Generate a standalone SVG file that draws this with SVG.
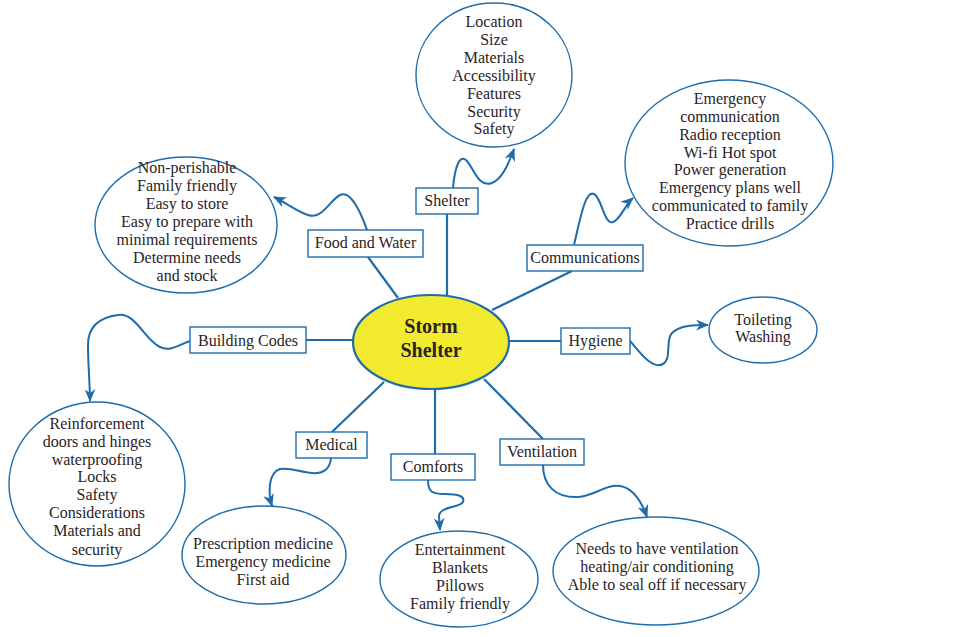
<svg xmlns="http://www.w3.org/2000/svg" width="963" height="637" viewBox="0 0 963 637">
<defs>
<marker id="arr" viewBox="0 0 12 10" markerWidth="13" markerHeight="11" refX="11" refY="5" orient="auto" markerUnits="userSpaceOnUse">
<path d="M0,0 L12,5 L0,10 L3.5,5 Z" fill="#1f6cab"/>
</marker>
<style>
.t{font-family:"Liberation Serif","Times New Roman",serif;font-size:16px;fill:#2a2326;text-anchor:middle}
.c{font-family:"Liberation Serif","Times New Roman",serif;font-size:20px;font-weight:bold;fill:#2a2326;text-anchor:middle}
.bx{fill:#fff;stroke:#1f6cab;stroke-width:1.4}
.el{fill:#fff;stroke:#1f6cab;stroke-width:1.4}
.ln{fill:none;stroke:#1f6cab;stroke-width:2.2}
.cv{fill:none;stroke:#1f6cab;stroke-width:2;marker-end:url(#arr)}
</style>
</defs>
<rect width="963" height="637" fill="#fff"/>
<g id="connectors">
<line class="ln" x1="447" y1="214" x2="447" y2="296"/>
<line class="ln" x1="368" y1="257" x2="398" y2="298"/>
<line class="ln" x1="572" y1="271" x2="492" y2="310"/>
<line class="ln" x1="306" y1="340" x2="354" y2="340"/>
<line class="ln" x1="508" y1="341" x2="561" y2="341"/>
<line class="ln" x1="332" y1="432" x2="384" y2="382"/>
<line class="ln" x1="435" y1="389" x2="435" y2="454"/>
<line class="ln" x1="484" y1="379" x2="543" y2="439"/>
<path class="cv" d="M453,188 C455,165 460,155 466,160 C474,168 478,188 492,183 C502,179 508,165 514,149"/>
<path class="cv" d="M367,230 C360,210 350,190 340,195 C330,200 322,220 308,215 C298,212 288,204 274,197"/>
<path class="cv" d="M574,245 C580,220 585,190 594,194 C602,198 604,225 613,222 C620,220 625,205 633,198"/>
<path class="cv" d="M190,341 C178,345 170,352 160,347 C145,340 135,312 118,315 C95,318 88,330 88,345 C88,365 90,385 90,401"/>
<path class="cv" d="M331,458 C330,470 322,474 312,473 C300,472 290,467 280,469 C268,473 268,493 272,506"/>
<path class="cv" d="M428,480 C428,492 432,494 445,494 C458,494 465,496 463,502 C460,508 440,506 439,516 L440,530"/>
<path class="cv" d="M543,465 C543,485 555,498 578,497 C595,496 605,484 620,486 C632,488 641,500 647,517"/>
<path class="cv" d="M630,341 C640,352 652,370 663,364 C672,359 665,340 672,333 C680,325 695,325 708,325"/>
</g>
<g id="center">
<ellipse cx="431" cy="342" rx="78" ry="47" fill="#f1ea2f" stroke="#1f6cab" stroke-width="2.2"/>
<text class="c" x="431" y="333">Storm</text>
<text class="c" x="431" y="357">Shelter</text>
</g>
<g id="shelter">
<rect class="bx" x="416" y="188" width="62" height="26"/>
<text class="t" x="447" y="206">Shelter</text>
</g>
<g id="shelter-details">
<ellipse class="el" cx="494" cy="75" rx="78" ry="72"/>
<text class="t" x="494" y="27">Location</text>
<text class="t" x="494" y="45">Size</text>
<text class="t" x="494" y="63">Materials</text>
<text class="t" x="494" y="81">Accessibility</text>
<text class="t" x="494" y="99">Features</text>
<text class="t" x="494" y="117">Security</text>
<text class="t" x="494" y="134">Safety</text>
</g>
<g id="food">
<rect class="bx" x="308" y="230" width="115" height="27"/>
<text class="t" x="365.5" y="248">Food and Water</text>
</g>
<g id="food-details">
<ellipse class="el" cx="186" cy="225" rx="91" ry="68"/>
<text class="t" x="187" y="173">Non-perishable</text>
<text class="t" x="187" y="191">Family friendly</text>
<text class="t" x="187" y="209">Easy to store</text>
<text class="t" x="187" y="227">Easy to prepare with</text>
<text class="t" x="187" y="245">minimal requirements</text>
<text class="t" x="187" y="263">Determine needs</text>
<text class="t" x="187" y="281">and stock</text>
</g>
<g id="communications">
<rect class="bx" x="527" y="245" width="116" height="26"/>
<text class="t" x="585" y="263">Communications</text>
</g>
<g id="communications-details">
<ellipse class="el" cx="729" cy="163" rx="104" ry="83"/>
<text class="t" x="730" y="104">Emergency</text>
<text class="t" x="730" y="122">communication</text>
<text class="t" x="730" y="140">Radio reception</text>
<text class="t" x="730" y="158">Wi-fi Hot spot</text>
<text class="t" x="730" y="175">Power generation</text>
<text class="t" x="730" y="193">Emergency plans well</text>
<text class="t" x="730" y="211">communicated to family</text>
<text class="t" x="730" y="229">Practice drills</text>
</g>
<g id="building-codes">
<rect class="bx" x="190" y="327" width="116" height="26"/>
<text class="t" x="248" y="346">Building Codes</text>
</g>
<g id="building-codes-details">
<ellipse class="el" cx="97" cy="484" rx="88" ry="82"/>
<text class="t" x="97" y="429">Reinforcement</text>
<text class="t" x="97" y="447">doors and hinges</text>
<text class="t" x="97" y="465">waterproofing</text>
<text class="t" x="97" y="482">Locks</text>
<text class="t" x="97" y="500">Safety</text>
<text class="t" x="97" y="518">Considerations</text>
<text class="t" x="97" y="536">Materials and</text>
<text class="t" x="97" y="555">security</text>
</g>
<g id="hygiene">
<rect class="bx" x="561" y="328" width="69" height="26"/>
<text class="t" x="595.5" y="346">Hygiene</text>
</g>
<g id="hygiene-details">
<ellipse class="el" cx="763" cy="330" rx="54" ry="33"/>
<text class="t" x="763" y="325">Toileting</text>
<text class="t" x="763" y="342">Washing</text>
</g>
<g id="medical">
<rect class="bx" x="296" y="432" width="71" height="26"/>
<text class="t" x="331.5" y="450">Medical</text>
</g>
<g id="medical-details">
<ellipse class="el" cx="264" cy="555" rx="82" ry="49"/>
<text class="t" x="263" y="549">Prescription medicine</text>
<text class="t" x="263" y="567">Emergency medicine</text>
<text class="t" x="263" y="585">First aid</text>
</g>
<g id="comforts">
<rect class="bx" x="391" y="454" width="84" height="26"/>
<text class="t" x="433" y="472">Comforts</text>
</g>
<g id="comforts-details">
<ellipse class="el" cx="459" cy="579" rx="79" ry="48"/>
<text class="t" x="460" y="555">Entertainment</text>
<text class="t" x="460" y="573">Blankets</text>
<text class="t" x="460" y="591">Pillows</text>
<text class="t" x="460" y="609">Family friendly</text>
</g>
<g id="ventilation">
<rect class="bx" x="500" y="439" width="84" height="26"/>
<text class="t" x="542" y="457">Ventilation</text>
</g>
<g id="ventilation-details">
<ellipse class="el" cx="656" cy="571" rx="103" ry="54"/>
<text class="t" x="657" y="554">Needs to have ventilation</text>
<text class="t" x="657" y="572">heating/air conditioning</text>
<text class="t" x="657" y="590">Able to seal off if necessary</text>
</g>
</svg>
